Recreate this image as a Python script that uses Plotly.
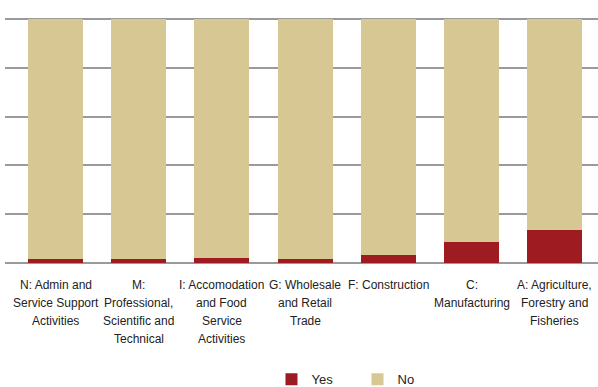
import plotly.graph_objects as go

# Industry sectors; each label is wrapped onto several lines
categories = [
    "N: Admin and Service Support Activities",
    "M: Professional, Scientific and Technical",
    "I: Accomodation and Food Service Activities",
    "G: Wholesale and Retail Trade",
    "F: Construction",
    "C: Manufacturing",
    "A: Agriculture, Forestry and Fisheries",
]
label_lines = [
    ["N: Admin and", "Service Support", "Activities"],
    ["M:", "Professional,", "Scientific and", "Technical"],
    ["I: Accomodation", "and Food", "Service", "Activities"],
    ["G: Wholesale", "and Retail", "Trade"],
    ["F: Construction"],
    ["C:", "Manufacturing"],
    ["A: Agriculture,", "Forestry and", "Fisheries"],
]

# Share of responses (%) per sector
yes_values = [1.6, 1.6, 2.0, 1.6, 3.3, 8.6, 13.5]
no_values = [100 - v for v in yes_values]

YES_COLOR = "#9E1B21"
NO_COLOR = "#D7C792"
GRID_COLOR = "#9A9A9A"
TEXT_COLOR = "#222222"
FONT = "Liberation Sans, Arial, sans-serif"
LINE_HEIGHT = 18

fig = go.Figure()
fig.add_trace(go.Bar(x=categories, y=yes_values, name="Yes",
                     marker=dict(color=YES_COLOR, line=dict(width=0))))
fig.add_trace(go.Bar(x=categories, y=no_values, name="No",
                     marker=dict(color=NO_COLOR, line=dict(width=0))))

# category labels, one text line per annotation for a looser line spacing
for cat, lines in zip(categories, label_lines):
    for i, line in enumerate(lines):
        fig.add_annotation(
            x=cat, y=0, xref="x", yref="y",
            text=line, showarrow=False,
            xanchor="center", yanchor="top",
            yshift=-13 - LINE_HEIGHT * i,
            font=dict(family=FONT, size=12, color=TEXT_COLOR),
        )

fig.update_layout(
    barmode="stack",
    bargap=0.34,
    width=598,
    height=387,
    margin=dict(l=5, r=0, t=0, b=124, autoexpand=False),
    paper_bgcolor="white",
    plot_bgcolor="white",
    font=dict(family=FONT, size=12, color=TEXT_COLOR),
    showlegend=True,
    legend=dict(
        orientation="h",
        xref="container", x=0.454, xanchor="left",
        yref="container", y=0.02, yanchor="middle",
        font=dict(size=13, color=TEXT_COLOR),
        traceorder="normal",
        entrywidth=41,
    ),
    xaxis=dict(
        range=[-0.607, 6.52],
        showgrid=False,
        showline=False,
        ticks="",
        showticklabels=False,
        automargin=False,
    ),
    yaxis=dict(
        range=[0, 107.8],
        tick0=0,
        dtick=20,
        showgrid=True,
        gridcolor=GRID_COLOR,
        gridwidth=2,
        zeroline=True,
        zerolinecolor=GRID_COLOR,
        zerolinewidth=2,
        showticklabels=False,
        ticks="",
        automargin=False,
    ),
)

fig.write_html("out.html")
